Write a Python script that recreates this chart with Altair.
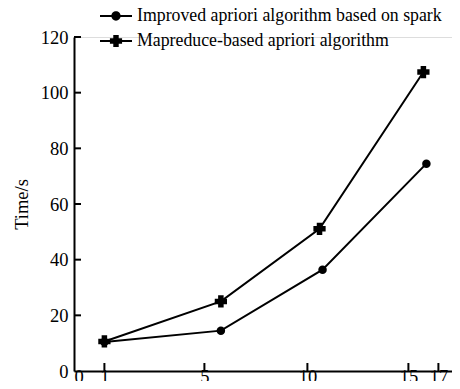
import altair as alt
import pandas as pd

# ---- data ----
series_names = ["Improved apriori algorithm based on spark", "Mapreduce-based apriori algorithm"]
improved_x = [1, 5.8, 10.75, 16.2]
improved_y = [10.4, 14.5, 36.4, 74.5]
mapreduce_x = [1, 5.8, 10.6, 16.0]
mapreduce_y = [10.6, 25.0, 51.1, 107.4]

x_tick_values = [0, 1, 5, 10, 15, 17]
x_inner_ticks = [1, 5, 10, 15, 17]
y_tick_values = [0, 20, 40, 60, 80, 100, 120]
y_inner_ticks = [20, 40, 60, 80, 100, 120]

# piecewise x axis as drawn in the reference (unevenly spaced ticks)
x_domain = [0, 1, 5, 10, 15, 17, 17.9]
x_range = [0, 30.4, 130.4, 233.4, 334.4, 364.4, 378]

FONT = "Liberation Serif"

df = pd.DataFrame({
    "series": [series_names[0]] * len(improved_x) + [series_names[1]] * len(mapreduce_x),
    "x": improved_x + mapreduce_x,
    "y": improved_y + mapreduce_y,
})
xt = pd.DataFrame({"v": x_inner_ticks})
yt = pd.DataFrame({"v": y_inner_ticks})

xscale = alt.Scale(domain=x_domain, range=x_range, nice=False, zero=False)
yscale = alt.Scale(domain=[0, 120], nice=False)

xaxis = alt.Axis(values=x_tick_values, title=None, ticks=False, tickSize=0, grid=False,
                 labelPadding=-4, domainWidth=2, domainColor="black",
                 labelFont=FONT, labelFontSize=18.5, labelColor="black")
yaxis = alt.Axis(values=y_tick_values, title="Time/s", ticks=False, tickSize=0, grid=False,
                 labelPadding=6, domainWidth=2, domainColor="black",
                 labelFont=FONT, labelFontSize=18.5, labelColor="black",
                 titleFont=FONT, titleFontSize=18.5, titleFontWeight="normal", titleColor="black",
                 titleX=-53, titleY=167, titleBaseline="middle", titleAngle=-90)

cross_shape = ("M-0.45,-1 L0.45,-1 L0.45,-0.45 L1,-0.45 L1,0.45 L0.45,0.45 "
               "L0.45,1 L-0.45,1 L-0.45,0.45 L-1,0.45 L-1,-0.45 L-0.45,-0.45 Z")

base = alt.Chart(df)

lines = base.mark_line(color="black", strokeWidth=2).encode(
    x=alt.X("x:Q", scale=xscale, axis=xaxis),
    y=alt.Y("y:Q", scale=yscale, axis=yaxis),
    detail="series:N",
)

circles = base.transform_filter(alt.datum.series == series_names[0]).mark_point(
    shape="circle", filled=True, color="black", size=72, opacity=1
).encode(x="x:Q", y="y:Q")

crosses = base.transform_filter(alt.datum.series == series_names[1]).mark_point(
    shape=cross_shape, filled=True, color="black", size=150, opacity=1
).encode(x="x:Q", y="y:Q")

circle_path = ("M-1,-0.055 L1,-0.055 L1,0.055 L-1,0.055 Z "
               "M0.29,0 A0.29,0.29 0 1,1 -0.29,0 A0.29,0.29 0 1,1 0.29,0 Z")
cross_path = ("M-1,-0.055 L1,-0.055 L1,0.055 L-1,0.055 Z "
              "M-0.17,-0.38 L0.17,-0.38 L0.17,-0.17 L0.38,-0.17 L0.38,0.17 L0.17,0.17 "
              "L0.17,0.38 L-0.17,0.38 L-0.17,0.17 L-0.38,0.17 L-0.38,-0.17 L-0.17,-0.17 Z")

legend_layer = base.mark_point(filled=True, color="black", opacity=0).encode(
    x="x:Q", y="y:Q",
    shape=alt.Shape("series:N",
                    scale=alt.Scale(domain=series_names, range=[circle_path, cross_path]),
                    legend=alt.Legend(title=None, orient="none", legendX=26, legendY=-37,
                                      padding=0, symbolSize=1024, symbolFillColor="black",
                                      symbolStrokeWidth=0, symbolOpacity=1,
                                      labelFont=FONT, labelFontSize=17.8, labelColor="black",
                                      labelOffset=5, labelLimit=400, rowPadding=-7)),
)

x_ticks = alt.Chart(xt).mark_tick(orient="vertical", size=8, thickness=2, color="black",
                                  yOffset=-4, opacity=1).encode(
    x=alt.X("v:Q"), y=alt.datum(0))
y_ticks = alt.Chart(yt).mark_tick(orient="horizontal", size=7, thickness=2, color="black",
                                  xOffset=3.5, opacity=1).encode(
    y=alt.Y("v:Q"), x=alt.datum(0))

chart = alt.layer(lines, circles, crosses, legend_layer, x_ticks, y_ticks).properties(
    width=378, height=334,
    autosize=alt.AutoSizeParams(type="none"),
    padding={"left": 66, "top": 29, "right": 0, "bottom": 10},
    background="white",
).configure_view(stroke=None).configure(font=FONT)

chart.save("out.html", embed_options={"renderer": "svg", "actions": False})
